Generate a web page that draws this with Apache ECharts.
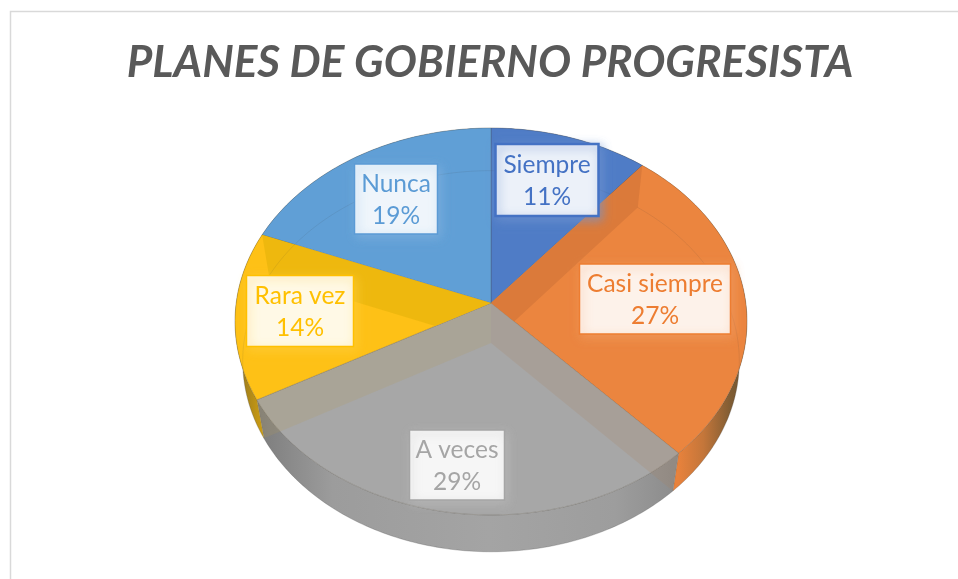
<!DOCTYPE html>
<html>
<head>
<meta charset="utf-8">
<style>
  html, body { margin: 0; padding: 0; background: #fff; }
  #chart { width: 958px; height: 579px; }
</style>
<script src="https://cdn.jsdelivr.net/npm/echarts@6/dist/echarts.min.js"></script>
</head>
<body>
<div id="chart"></div>
<script>
const categories = ['Siempre', 'Casi siempre', 'A veces', 'Rara vez', 'Nunca']
const values = [11, 27, 29, 14, 19]

const faceColors = ['#4f7cc6', '#eb853f', '#a7a7a7', '#fec116', '#609fd6']
const textColors = ['#4472c4', '#ed7d31', '#a5a5a5', '#ffc000', '#5b9bd5']
// band below the spoke where each slice starts (the wall seen through the top)
const bandColors = [
  'rgba(0,0,0,0)',
  'rgba(218,122,58,.96)',
  'rgba(170,130,95,.2)',
  'rgba(180,155,90,.2)',
  'rgba(237,183,15,.96)'
]
// slice whose starting spoke cuts the band off, so it stays inside the slice under it
const bandClip = [null, 2, null, null, 3]
// label box centre, px
const labelCenters = [[547, 180], [655, 299], [457, 465], [300, 311], [396, 199]]
const labelSizes = [[103, 72], [151, 70], [95, 70], [107, 71], [83, 70]]

// pie geometry: circle seen in perspective
const APEX_X = 491
const APEX_Y = 303
const A = 254.8
const B = 191.7
const P = 0.0956
const DEPTH = 40
const FLOOR_SCALE_X = 0.97
const FLOOR_SCALE_Y = 0.985

const total = values.reduce((a, b) => a + b, 0)
const starts = values.map((v, i) => values.slice(0, i).reduce((a, b) => a + b, 0))

function project(frac, r, floor) {
  const t = frac * Math.PI * 2
  const u = Math.sin(t) * r
  const v = -Math.cos(t) * r
  const w = 1 - P * v
  const sx = floor ? FLOOR_SCALE_X : 1
  const sy = floor ? FLOOR_SCALE_Y : 1
  return [APEX_X + sx * A * u / w, APEX_Y + (floor ? DEPTH : 0) + sy * B * v / w]
}

function arc(from, to, floor) {
  const pts = []
  const n = Math.max(2, Math.ceil((to - from) * 360))
  for (let i = 0; i <= n; i++) {
    pts.push(project(from + (to - from) * i / n, 1, floor))
  }
  return pts
}

function range(idx, api) {
  const from = starts[idx] / total
  return [from, from + api.value(0) / total]
}

function intersect(a, b, c, d) {
  const d1x = b[0] - a[0]
  const d1y = b[1] - a[1]
  const d2x = d[0] - c[0]
  const d2y = d[1] - c[1]
  const t = ((c[0] - a[0]) * d2y - (c[1] - a[1]) * d2x) / (d1x * d2y - d1y * d2x)
  return [a[0] + d1x * t, a[1] + d1y * t]
}

function grad(stops) {
  return new echarts.graphic.LinearGradient(0, 0, 1, 0, stops.map(c => ({
    offset: c[0], color: c[1]
  })))
}

const wallFills = [
  '#3d62a0',
  grad([[0, '#e8823c'], [0.37, '#e8823c'], [0.6, '#c4763a'], [0.85, '#7f5c33'], [1, '#6f5332']]),
  grad([[0, '#7c7c7c'], [0.18, '#9c9c9c'], [0.55, '#a4a4a4'], [0.85, '#9d9d9d'], [1, '#8b8b8b']]),
  grad([[0, '#8d7120'], [1, '#dca80f']]),
  '#4c80ad'
]

const seriesData = values.map((v, i) => ({ name: categories[i], value: [v] }))

function wallItem(params, api) {
  const idx = params.dataIndex
  const [from, to] = range(idx, api)
  return {
    type: 'polygon',
    shape: { points: arc(from, to, false).concat(arc(from, to, true).reverse()) },
    style: { fill: wallFills[idx], stroke: 'rgba(90,90,90,.3)', lineWidth: 0.6 }
  }
}

function faceItem(params, api) {
  const idx = params.dataIndex
  const [from, to] = range(idx, api)
  return {
    type: 'polygon',
    shape: { points: [[APEX_X, APEX_Y]].concat(arc(from, to, false)) },
    style: { fill: faceColors[idx], stroke: 'rgba(70,60,40,.28)', lineWidth: 0.8 }
  }
}

function bandItem(params, api) {
  const idx = params.dataIndex
  const [from, to] = range(idx, api)
  const apex = [APEX_X, APEX_Y]
  const floorApex = [APEX_X, APEX_Y + DEPTH]
  const floorRim = project(from, 1, true)
  let last = floorApex
  if (bandClip[idx] !== null) {
    last = intersect(floorApex, floorRim, apex, project(starts[bandClip[idx]] / total, 1, false))
  }
  return {
    type: 'group',
    children: [
      {
        type: 'polygon',
        shape: { points: [apex, project(from, 1, false), floorRim, last] },
        style: { fill: bandColors[idx] }
      },
      {
        type: 'polyline',
        shape: { points: arc(from, to, true) },
        style: { fill: null, stroke: 'rgba(60,60,60,.1)', lineWidth: 1 }
      }
    ]
  }
}

function labelItem(params, api) {
  const idx = params.dataIndex
  const [cx, cy] = labelCenters[idx]
  const [w, h] = labelSizes[idx]
  const color = textColors[idx]
  return {
    type: 'group',
    children: [
      {
        type: 'rect',
        shape: { x: cx - w / 2, y: cy - h / 2, width: w, height: h },
        style: {
          fill: 'rgba(255,255,255,.88)',
          stroke: color,
          lineWidth: idx === 0 ? 2.5 : 1.5,
          shadowBlur: 10,
          shadowColor: echarts.color.modifyAlpha(echarts.color.lift(color, 0.25), 0.75),
          shadowOffsetX: 2,
          shadowOffsetY: 3
        }
      },
      {
        type: 'text',
        style: {
          text: categories[idx] + '\n' + api.value(0) + '%',
          x: cx,
          y: cy + 1.5,
          fill: color,
          font: '24.5px Lato',
          align: 'center',
          verticalAlign: 'middle',
          lineHeight: 32
        }
      }
    ]
  }
}

function customSeries(renderItem, z) {
  return {
    type: 'custom',
    coordinateSystem: 'none',
    silent: true,
    z: z,
    clip: false,
    data: seriesData,
    renderItem: renderItem
  }
}

const chart = echarts.init(document.getElementById('chart'), null, { renderer: 'canvas' })
chart.setOption({
  animation: false,
  backgroundColor: '#fff',
  title: {
    text: 'PLANES DE GOBIERNO PROGRESISTA',
    left: 485,
    top: 36,
    textAlign: 'center',
    textStyle: {
      color: '#595959',
      fontFamily: 'Lato',
      fontSize: 44,
      fontWeight: 'bold',
      fontStyle: 'italic'
    }
  },
  graphic: [{
    type: 'rect',
    silent: true,
    shape: { x: 10.5, y: 11.5, width: 1000, height: 1000 },
    style: { fill: null, stroke: '#d9d9d9', lineWidth: 1.5 }
  }],
  series: [
    customSeries(wallItem, 1),
    customSeries(faceItem, 2),
    customSeries(bandItem, 3),
    customSeries(labelItem, 4)
  ]
})
</script>
</body>
</html>
